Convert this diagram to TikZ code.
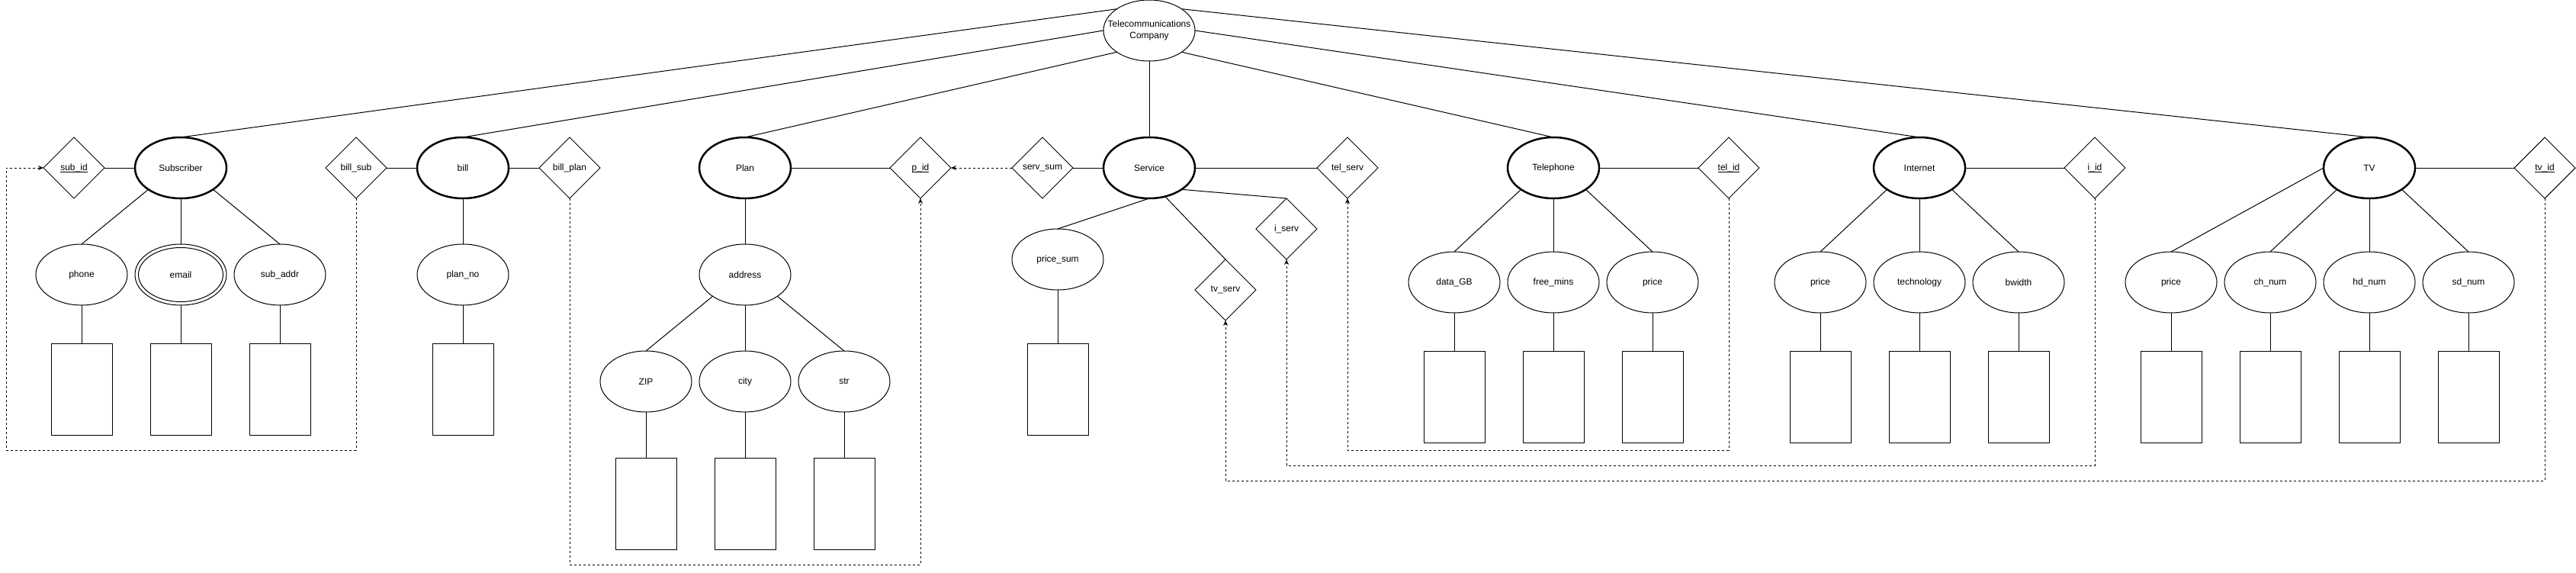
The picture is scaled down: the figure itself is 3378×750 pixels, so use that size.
\documentclass[tikz,border=0pt]{standalone}
\usepackage{fontspec}
\setmainfont{Liberation Sans}
\usetikzlibrary{shapes.geometric,arrows.meta,calc}
\newcommand{\keyul}[1]{\setbox0\hbox{#1}\rlap{\rule[-2.6pt]{\wd0}{0.9pt}}\box0}
\begin{document}
\begin{tikzpicture}[x=1pt,y=-1pt,
  every node/.style={font=\fontsize{12}{15}\selectfont, inner sep=0pt, outer sep=0pt},
  ent/.style={ellipse, draw, line width=2.5pt, minimum width=120pt, minimum height=80pt},
  att/.style={ellipse, draw, line width=1pt, minimum width=120pt, minimum height=80pt},
  rel/.style={diamond, draw, line width=1pt, minimum width=80pt, minimum height=80pt, aspect=1},
  box/.style={rectangle, draw, line width=1pt, minimum width=80pt, minimum height=120pt},
  conn/.style={line width=1pt},
  dconn/.style={line width=1pt, dash pattern=on 3pt off 3pt, -{Stealth[length=7pt,width=6pt]}},
]
\fill[white] (0,0) rectangle (3378,750);
\useasboundingbox (0,0) rectangle (3378,750);

% top
\node[att, label={[align=center]center:Telecommunications\\Company}] (tc) at (1507,40) {};

% entities and relations row
\node[rel] (subid) at (97,220) {\keyul{sub\_id}};
\node[ent] (sub) at (237,220) {Subscriber};
\node[rel] (billsub) at (467,220) {bill\_sub};
\node[ent] (bill) at (607,220) {bill};
\node[rel] (billplan) at (747,220) {bill\_plan};
\node[ent] (plan) at (977,220) {Plan};
\node[rel] (pid) at (1207,220) {\keyul{p\_id}};
\node[rel] (servsum) at (1367,220) {serv\_sum};
\node[ent] (svc) at (1507,220) {Service};
\node[rel] (telserv) at (1767,220) {tel\_serv};
\node[ent] (tel) at (2037,220) {Telephone};
\node[rel] (telid) at (2267,220) {\keyul{tel\_id}};
\node[ent] (inet) at (2517,220) {Internet};
\node[rel] (iid) at (2747,220) {\keyul{i\_id}};
\node[ent] (tv) at (3107,220) {TV};
\node[rel] (tvid) at (3337,220) {\keyul{tv\_id}};
\node[rel] (iserv) at (1687,300) {i\_serv};
\node[rel] (tvserv) at (1607,380) {tv\_serv};

% attributes
\node[att] (phone) at (107,360) {phone};
\node[att] (email) at (237,360) {email};
\draw[line width=1pt] (email.center) ellipse [x radius=55.5, y radius=35.5];
\node[att] (subaddr) at (367,360) {sub\_addr};
\node[att] (planno) at (607,360) {plan\_no};
\node[att] (addr) at (977,360) {address};
\node[att] (zip) at (847,500) {ZIP};
\node[att] (city) at (977,500) {city};
\node[att] (str) at (1107,500) {str};
\node[att] (pricesum) at (1387,340) {price\_sum};
\node[att] (datagb) at (1907,370) {data\_GB};
\node[att] (freemins) at (2037,370) {free\_mins};
\node[att] (tprice) at (2167,370) {price};
\node[att] (iprice) at (2387,370) {price};
\node[att] (tech) at (2517,370) {technology};
\node[att] (bw) at (2647,370) {bwidth};
\node[att] (vprice) at (2847,370) {price};
\node[att] (chnum) at (2977,370) {ch\_num};
\node[att] (hdnum) at (3107,370) {hd\_num};
\node[att] (sdnum) at (3237,370) {sd\_num};

% boxes
\node[box] (bphone) at (107,510) {};
\node[box] (bemail) at (237,510) {};
\node[box] (bsubaddr) at (367,510) {};
\node[box] (bplanno) at (607,510) {};
\node[box] (bzip) at (847,660) {};
\node[box] (bcity) at (977,660) {};
\node[box] (bstr) at (1107,660) {};
\node[box] (bpricesum) at (1387,510) {};
\node[box] (bdatagb) at (1907,520) {};
\node[box] (bfreemins) at (2037,520) {};
\node[box] (btprice) at (2167,520) {};
\node[box] (biprice) at (2387,520) {};
\node[box] (btech) at (2517,520) {};
\node[box] (bbw) at (2647,520) {};
\node[box] (bvprice) at (2847,520) {};
\node[box] (bchnum) at (2977,520) {};
\node[box] (bhdnum) at (3107,520) {};
\node[box] (bsdnum) at (3237,520) {};

% company links
\draw[conn] (tc.north west) -- (sub.north);
\draw[conn] (tc.west) -- (bill.north);
\draw[conn] (tc.south west) -- (plan.north);
\draw[conn] (tc.south) -- (svc.north);
\draw[conn] (tc.south east) -- (tel.north);
\draw[conn] (tc.east) -- (inet.north);
\draw[conn] (tc.north east) -- (tv.north);

% horizontal links
\draw[conn] (subid.east) -- (sub.west);
\draw[conn] (billsub.east) -- (bill.west);
\draw[conn] (bill.east) -- (billplan.west);
\draw[conn] (plan.east) -- (pid.west);
\draw[conn] (servsum.east) -- (svc.west);
\draw[conn] (svc.east) -- (telserv.west);
\draw[conn] (tel.east) -- (telid.west);
\draw[conn] (inet.east) -- (iid.west);
\draw[conn] (tv.east) -- (tvid.west);

% attribute links
\draw[conn] (sub.south west) -- (phone.north);
\draw[conn] (sub.south) -- (email.north);
\draw[conn] (sub.south east) -- (subaddr.north);
\draw[conn] (bill.south) -- (planno.north);
\draw[conn] (plan.south) -- (addr.north);
\draw[conn] (addr.south west) -- (zip.north);
\draw[conn] (addr.south) -- (city.north);
\draw[conn] (addr.south east) -- (str.north);
\draw[conn] (svc.south) -- (pricesum.north);
\draw[conn] (svc.-61) -- (tvserv.north);
\draw[conn] (svc.south east) -- (iserv.north);
\draw[conn] (tel.south west) -- (datagb.north);
\draw[conn] (tel.south) -- (freemins.north);
\draw[conn] (tel.south east) -- (tprice.north);
\draw[conn] (inet.south west) -- (iprice.north);
\draw[conn] (inet.south) -- (tech.north);
\draw[conn] (inet.south east) -- (bw.north);
\draw[conn] (tv.west) -- (vprice.north);
\draw[conn] (tv.south west) -- (chnum.north);
\draw[conn] (tv.south) -- (hdnum.north);
\draw[conn] (tv.south east) -- (sdnum.north);

% attribute to box
\foreach \a/\b in {phone/bphone,email/bemail,subaddr/bsubaddr,planno/bplanno,zip/bzip,city/bcity,str/bstr,pricesum/bpricesum,datagb/bdatagb,freemins/bfreemins,tprice/btprice,iprice/biprice,tech/btech,bw/bbw,vprice/bvprice,chnum/bchnum,hdnum/bhdnum,sdnum/bsdnum}
  \draw[conn] (\a.south) -- (\b.north);

% dashed references
\coordinate (r1) at (8,590);
\coordinate (r2) at (1207,740);
\coordinate (r4) at (1767,590);
\coordinate (r5) at (1687,610);
\coordinate (r6) at (1607,630);
\draw[dconn] (billsub.south) |- (r1) |- (subid.west);
\draw[dconn] (billplan.south) |- (r2) -- (pid.south);
\draw[dconn] (servsum.west) -- (pid.east);
\draw[dconn] (telid.south) |- (r4) -- (telserv.south);
\draw[dconn] (iid.south) |- (r5) -- (iserv.south);
\draw[dconn] (tvid.south) |- (r6) -- (tvserv.south);
\end{tikzpicture}
\end{document}
